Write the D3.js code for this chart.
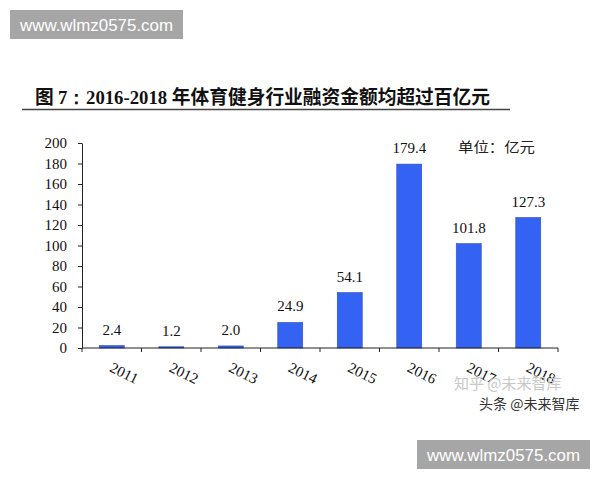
<!DOCTYPE html>
<html>
<head>
<meta charset="utf-8">
<script src="https://cdn.jsdelivr.net/npm/d3@7"></script>
<style>
  html, body { margin: 0; padding: 0; background: #fff; }
  svg { display: block; }
</style>
</head>
<body>
<svg id="chart" width="600" height="480"></svg>
<script>
const categories = ["2011", "2012", "2013", "2014", "2015", "2016", "2017", "2018"];
const values = [2.4, 1.2, 2.0, 24.9, 54.1, 179.4, 101.8, 127.3];
const valueLabels = ["2.4", "1.2", "2.0", "24.9", "54.1", "179.4", "101.8", "127.3"];
const yTicks = [0, 20, 40, 60, 80, 100, 120, 140, 160, 180, 200];
const unitText = "单位：亿元";
const watermark = "www.wlmz0575.com";

const svg = d3.select("#chart");
const serif = "'Liberation Serif', 'Times New Roman', serif";
const cjk = "'Noto Sans CJK SC', sans-serif";

// watermark boxes
[[10, 10], [417, 440]].forEach(([x, y]) => {
  svg.append("rect").attr("x", x).attr("y", y).attr("width", 173).attr("height", 29).attr("fill", "#a6a6a6");
  svg.append("text").attr("x", x + 10).attr("y", y + 21)
    .attr("font-family", "'Liberation Sans', Arial, sans-serif").attr("font-size", 17)
    .attr("fill", "#fff").attr("textLength", 153).attr("lengthAdjust", "spacingAndGlyphs")
    .text(watermark);
});

// title
const title = svg.append("text").attr("x", 35).attr("y", 104)
  .attr("font-size", 19).attr("font-weight", "bold").attr("fill", "#111")
  .attr("textLength", 455).attr("lengthAdjust", "spacingAndGlyphs");
title.append("tspan").attr("font-family", cjk).text("图 ");
title.append("tspan").attr("font-family", serif).text("7：2016-2018 ");
title.append("tspan").attr("font-family", cjk).text("年体育健身行业融资金额均超过百亿元");
svg.append("line").attr("x1", 22).attr("x2", 510).attr("y1", 109.5).attr("y2", 109.5)
  .attr("stroke", "#444").attr("stroke-width", 1.5);

const x = d3.scaleBand().domain(categories).range([82, 558]).paddingInner(0.58).paddingOuter(0.29);
const y = d3.scaleLinear().domain([0, 200]).range([348, 143]);

// y axis
const yAxis = svg.append("g").attr("transform", "translate(82,0)")
  .call(d3.axisLeft(y).tickValues(yTicks).tickSize(4).tickSizeOuter(0).tickPadding(11));
yAxis.selectAll("text").attr("font-family", serif).attr("font-size", 15).attr("fill", "#111");
yAxis.selectAll("line, path").attr("stroke", "#222");

// bars
svg.append("g").selectAll("rect").data(categories).join("rect")
  .attr("x", d => x(d))
  .attr("width", x.bandwidth())
  .attr("y", (d, i) => y(values[i]))
  .attr("height", (d, i) => y(0) - y(values[i]))
  .attr("fill", "#3462f2")
  .attr("stroke", "#2c4db5").attr("stroke-width", 0.6);

// value labels
svg.append("g").selectAll("text").data(categories).join("text")
  .attr("x", d => x(d) + x.bandwidth() / 2)
  .attr("y", (d, i) => y(values[i]) - 11)
  .attr("text-anchor", "middle")
  .attr("font-family", serif).attr("font-size", 15).attr("fill", "#111")
  .text((d, i) => valueLabels[i]);

// x axis
const xAxis = svg.append("g").attr("transform", "translate(0,348)");
xAxis.append("line").attr("x1", 82).attr("x2", 558).attr("stroke", "#222");
const step = x.step();
const bounds = d3.range(categories.length + 1).map(i => 82 + i * step);
xAxis.selectAll("line.tk").data(bounds).join("line").attr("class", "tk")
  .attr("x1", d => d).attr("x2", d => d).attr("y1", 0).attr("y2", 4).attr("stroke", "#222");
xAxis.selectAll("text").data(categories).join("text")
  .attr("transform", d => `translate(${x(d) + x.bandwidth() / 2 + 2},${13}) rotate(26)`)
  .attr("dy", "0.75em")
  .attr("font-family", serif).attr("font-size", 15).attr("fill", "#111")
  .text(d => d);

// unit label
svg.append("text").attr("x", 458).attr("y", 152)
  .attr("font-family", cjk).attr("font-size", 14).attr("fill", "#222")
  .attr("textLength", 77).attr("lengthAdjust", "spacingAndGlyphs")
  .text(unitText);

// faint platform watermarks
svg.append("text").attr("x", 454).attr("y", 389)
  .attr("font-family", cjk).attr("font-size", 15).attr("fill", "#c8c8c8")
  .text("知乎 @未来智库");
svg.append("text").attr("x", 479).attr("y", 409)
  .attr("font-family", cjk).attr("font-size", 14).attr("fill", "#333")
  .attr("stroke", "#fff").attr("stroke-width", 2).attr("paint-order", "stroke")
  .text("头条 @未来智库");
</script>
</body>
</html>
